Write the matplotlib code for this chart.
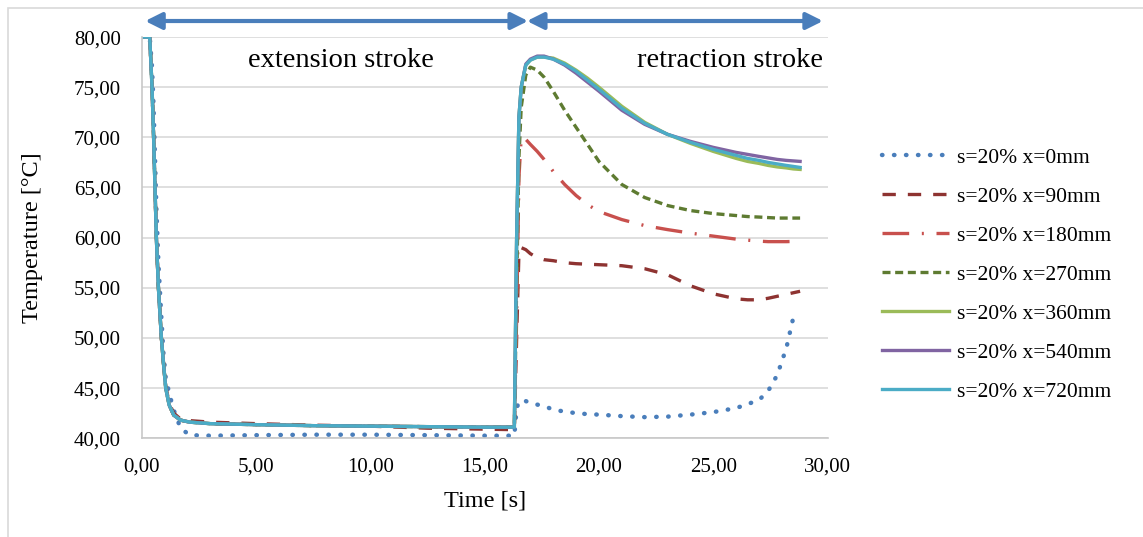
import matplotlib
matplotlib.use("Agg")
import matplotlib.pyplot as plt
from matplotlib.patches import Rectangle

plt.rcParams["font.family"] = ["Liberation Serif", "DejaVu Serif"]

# time axis [s]
t = [0.0, 0.35, 0.45, 0.52, 0.58, 0.64, 0.73, 0.86, 0.95, 1.05, 1.2, 1.4, 1.7, 2.1,
     3.0, 5.0, 7.5, 10.0, 12.5, 15.0, 16.3,
     16.4, 16.5, 16.6, 16.8, 17.0, 17.3, 17.6, 18.0, 18.5, 19.0, 19.5, 20.0, 21.0,
     22.0, 23.0, 24.0, 25.0, 26.0, 26.5, 27.0, 27.4, 27.8, 28.2, 28.5, 28.8]

# temperatures [°C]
x0 = [80, 80, 77, 73, 68, 63, 57.5, 52, 48.5, 46, 44.5, 42.8, 41.0, 40.3,
      40.25, 40.3, 40.35, 40.35, 40.3, 40.25, 40.25,
      43.0, 43.6, 43.8, 43.7, 43.5, 43.35, 43.2, 42.85, 42.65, 42.5, 42.4, 42.35, 42.2,
      42.1, 42.15, 42.35, 42.6, 43.0, 43.4, 43.8, 44.7, 46.3, 49.0, 52.0, 52.4]
x90 = [80, 80, 75, 70, 65, 60, 55, 50, 47.6, 45.2, 43.5, 42.5, 41.9, 41.75,
       41.6, 41.45, 41.3, 41.2, 41.0, 40.9, 40.85,
       50.0, 58.5, 59.0, 58.8, 58.4, 58.0, 57.8, 57.7, 57.5, 57.4, 57.35, 57.3, 57.2,
       56.9, 56.3, 55.2, 54.4, 53.9, 53.8, 53.8, 53.95, 54.15, 54.35, 54.5, 54.65]
x180 = [80, 80, 75, 70, 65, 60, 55, 50, 47.5, 45, 43.3, 42.3, 41.8, 41.6,
        41.45, 41.35, 41.25, 41.2, 41.15, 41.1, 41.1,
        52.0, 66.0, 70.0, 69.8, 69.3, 68.6, 67.8, 66.6, 65.3, 64.2, 63.3, 62.6, 61.8,
        61.2, 60.8, 60.45, 60.15, 59.85, 59.75, 59.65, 59.6, 59.6, 59.6, 59.62, 59.65]
x270 = [80, 80, 75, 70, 65, 60, 55, 50, 47.5, 45, 43.3, 42.3, 41.8, 41.6,
        41.45, 41.35, 41.25, 41.2, 41.15, 41.1, 41.1,
        55.0, 68.0, 73.0, 76.2, 77.0, 76.7, 76.0, 74.6, 72.7, 71.0, 69.3, 67.6, 65.3,
        64.0, 63.2, 62.7, 62.4, 62.2, 62.1, 62.05, 62.0, 61.95, 61.95, 61.95, 61.95]
x360 = [80, 80, 75, 70, 65, 60, 55, 50, 47.5, 45, 43.3, 42.3, 41.8, 41.6,
        41.45, 41.35, 41.25, 41.2, 41.15, 41.1, 41.1,
        60.0, 72.0, 75.0, 77.2, 77.7, 78.0, 78.0, 77.9, 77.4, 76.7, 75.9, 75.0, 73.1,
        71.5, 70.3, 69.4, 68.6, 67.9, 67.6, 67.4, 67.2, 67.05, 66.95, 66.85, 66.8]
x540 = [80, 80, 75, 70, 65, 60, 55, 50, 47.5, 45, 43.3, 42.3, 41.8, 41.6,
        41.45, 41.35, 41.25, 41.2, 41.15, 41.1, 41.1,
        60.0, 72.0, 75.0, 77.3, 77.8, 78.1, 78.1, 77.8, 77.2, 76.4, 75.5, 74.6, 72.7,
        71.3, 70.3, 69.6, 69.0, 68.5, 68.3, 68.1, 67.95, 67.8, 67.7, 67.65, 67.6]
x720 = [80, 80, 75, 70, 65, 60, 55, 50, 47.5, 45, 43.3, 42.3, 41.8, 41.6,
        41.45, 41.35, 41.25, 41.2, 41.15, 41.1, 41.1,
        60.0, 72.0, 75.0, 77.2, 77.7, 78.0, 78.0, 77.8, 77.3, 76.6, 75.7, 74.8, 72.9,
        71.4, 70.3, 69.5, 68.8, 68.2, 67.9, 67.7, 67.5, 67.35, 67.2, 67.1, 67.0]

labels = ["s=20% x=0mm", "s=20% x=90mm", "s=20% x=180mm", "s=20% x=270mm",
          "s=20% x=360mm", "s=20% x=540mm", "s=20% x=720mm"]

xticks = [0, 5, 10, 15, 20, 25, 30]
xtick_labels = ["0,00", "5,00", "10,00", "15,00", "20,00", "25,00", "30,00"]
yticks = [40, 45, 50, 55, 60, 65, 70, 75, 80]
ytick_labels = ["40,00", "45,00", "50,00", "55,00", "60,00", "65,00", "70,00", "75,00", "80,00"]

fig = plt.figure(figsize=(11.43, 5.37), dpi=100)
ax = fig.add_axes([0.124, 0.184, 0.600, 0.747])

lw = 2.4
ax.plot(t, x0, color="#4A7EBB", lw=3.2, dashes=(0.1, 2.6), dash_capstyle="round", label=labels[0])
ax.plot(t, x90, color="#8E3331", lw=lw, dashes=(4, 3.6), label=labels[1])
ax.plot(t, x180, color="#C8504D", lw=lw, dashes=(8, 3.8, 0.6, 3.8), label=labels[2])
ax.plot(t, x270, color="#5E7B31", lw=lw, dashes=(2.4, 1.4), label=labels[3])
ax.plot(t, x360, color="#9BBB59", lw=lw, label=labels[4])
ax.plot(t, x540, color="#8064A2", lw=lw, label=labels[5])
ax.plot(t, x720, color="#4BACC6", lw=lw, label=labels[6])

ax.set_xlim(0, 30)
ax.set_ylim(40, 80)
ax.set_xticks(xticks)
ax.set_xticklabels(xtick_labels)
ax.set_yticks(yticks)
ax.set_yticklabels(ytick_labels)
ax.tick_params(length=0, labelsize=15, colors="#000000")
ax.tick_params(axis="y", pad=15)
ax.tick_params(axis="x", pad=14)
ax.yaxis.grid(True, color="#D9D9D9", lw=1.2)
ax.set_axisbelow(True)
for s in ["top", "right"]:
    ax.spines[s].set_visible(False)
for s in ["left", "bottom"]:
    ax.spines[s].set_color("#C8C8C8")
    ax.spines[s].set_linewidth(1.2)

ax.set_xlabel("Time [s]", fontsize=17.5, labelpad=10)
ax.set_ylabel("Temperature [°C]", fontsize=17.5, labelpad=22)

# stroke arrows above the plot
arrow_kw = dict(arrowstyle="<|-|>,head_length=1.0,head_width=0.5", color="#4A7EBB",
                lw=3, shrinkA=0, shrinkB=0)
ax.annotate("", xy=(0.15, 81.6), xytext=(16.9, 81.6), arrowprops=arrow_kw,
            annotation_clip=False)
ax.annotate("", xy=(16.85, 81.6), xytext=(29.8, 81.6), arrowprops=arrow_kw,
            annotation_clip=False)
ax.text(8.7, 77.7, "extension stroke", fontsize=20.5, ha="center", va="center")
ax.text(25.75, 77.7, "retraction stroke", fontsize=20.5, ha="center", va="center")

ax.legend(loc="center left", bbox_to_anchor=(0.772, 0.488), bbox_transform=fig.transFigure,
          frameon=False, fontsize=15.5, handlelength=3.1, handletextpad=0.35,
          labelspacing=0.88, borderpad=0, borderaxespad=0)

# light chart-area frame
fig.add_artist(Rectangle((8 / 1143, -0.1), 1.2, 1 - 8 / 537 + 0.1, transform=fig.transFigure,
                         fill=False, ec="#D9D9D9", lw=1.2))

fig.savefig("out.png", dpi=100)
